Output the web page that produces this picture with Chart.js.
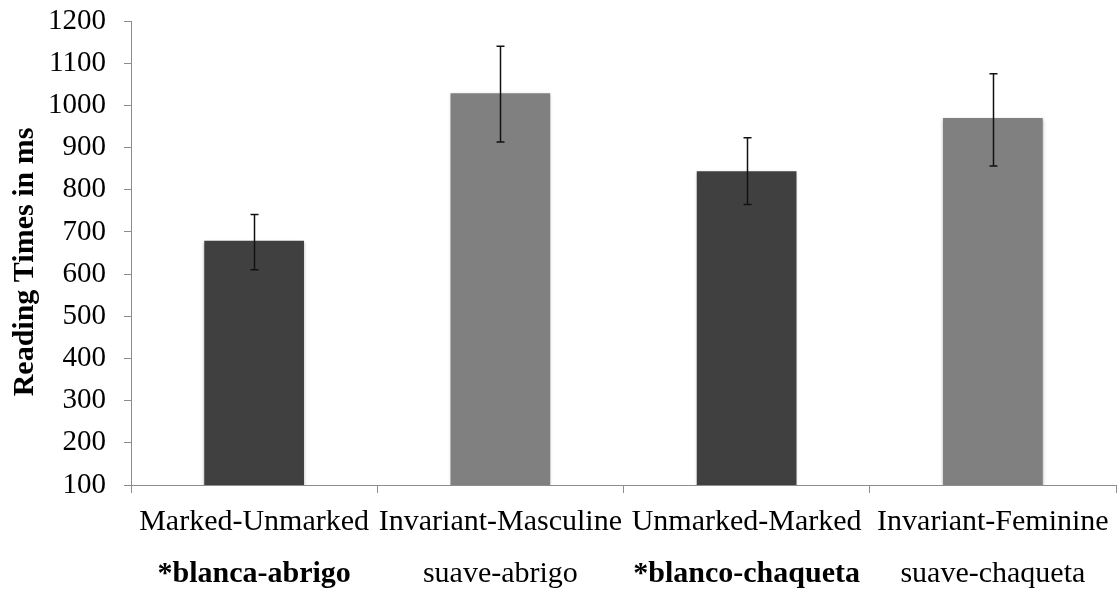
<!DOCTYPE html>
<html>
<head>
<meta charset="utf-8">
<title>Reading Times</title>
<script src="https://cdn.jsdelivr.net/npm/chart.js@4.4.0/dist/chart.umd.min.js"></script>
<style>
  html, body { margin: 0; padding: 0; background: #fff; }
  #wrap { width: 1117px; height: 590px; position: relative; }
</style>
</head>
<body>
<div id="wrap"><canvas id="chart-rt"></canvas></div>
<script>
// ====== DADOS ======
const categorias = ["Marked-Unmarked", "Invariant-Masculine", "Unmarked-Marked", "Invariant-Feminine"];
const exemplos = ["*blanca-abrigo", "suave-abrigo", "*blanco-chaqueta", "suave-chaqueta"];
const mediaRT = [679, 1029, 844, 970];
const erroMin = [610, 913, 765, 856];
const erroMax = [741, 1140, 923, 1075];
const ticksY = [100, 200, 300, 400, 500, 600, 700, 800, 900, 1000, 1100, 1200];

const fonte = "'Liberation Serif', 'Times New Roman', serif";
const corEixo = "#8c8c8c";

// ====== PLUGINS ======
// sombra leve nas barras
const sombraBarras = {
  id: "sombraBarras",
  beforeDatasetsDraw(chart) {
    const ctx = chart.ctx;
    ctx.save();
    ctx.shadowColor = "rgba(0,0,0,0.35)";
    ctx.shadowBlur = 3;
    ctx.shadowOffsetX = 0;
    ctx.shadowOffsetY = 1;
  },
  afterDatasetsDraw(chart) {
    chart.ctx.restore();
  }
};

// barras de erro
const barrasErro = {
  id: "barrasErro",
  afterDatasetsDraw(chart) {
    const ctx = chart.ctx;
    const x = chart.scales.x, y = chart.scales.y;
    ctx.save();
    ctx.strokeStyle = "#111";
    ctx.lineWidth = 1.5;
    erroMin.forEach((lo, i) => {
      const px = Math.round(x.getPixelForValue(i)) + 0.5;
      const y1 = y.getPixelForValue(erroMax[i]);
      const y2 = y.getPixelForValue(lo);
      ctx.beginPath();
      ctx.moveTo(px, y1); ctx.lineTo(px, y2);
      ctx.moveTo(px - 4, y1); ctx.lineTo(px + 4, y1);
      ctx.moveTo(px - 4, y2); ctx.lineTo(px + 4, y2);
      ctx.stroke();
    });
    ctx.restore();
  }
};

// rotulos do eixo x (duas linhas) e titulo do eixo y
const textos = {
  id: "textos",
  afterDraw(chart) {
    const ctx = chart.ctx;
    const x = chart.scales.x;
    ctx.save();
    ctx.fillStyle = "#000";
    ctx.textAlign = "center";
    ctx.textBaseline = "alphabetic";
    categorias.forEach((c, i) => {
      const px = x.getPixelForValue(i);
      ctx.font = "30px " + fonte;
      ctx.fillText(c, px, 530);
      const negrito = exemplos[i].startsWith("*");
      ctx.font = (negrito ? "bold " : "") + "30px " + fonte;
      ctx.fillText(exemplos[i], px, 582);
    });
    // titulo y
    ctx.translate(33, 262);
    ctx.rotate(-Math.PI / 2);
    ctx.font = "bold 30px " + fonte;
    ctx.fillText("Reading Times in ms", 0, 0);
    ctx.restore();
  }
};

// ====== GRAFICO ======
const ctx = document.getElementById("chart-rt").getContext("2d");
new Chart(ctx, {
  type: "bar",
  data: {
    labels: categorias,
    datasets: [{
      data: mediaRT,
      backgroundColor: ["#404040", "#808080", "#404040", "#808080"],
      borderWidth: 0,
      barPercentage: 0.405,
      categoryPercentage: 1
    }]
  },
  options: {
    responsive: true,
    maintainAspectRatio: false,
    animation: false,
    devicePixelRatio: 1,
    layout: { padding: { left: 48, top: 21, right: 1, bottom: 97 } },
    plugins: {
      legend: { display: false },
      tooltip: { enabled: false }
    },
    scales: {
      x: {
        grid: { drawOnChartArea: false, drawTicks: true, tickLength: 8, color: corEixo, offset: true },
        border: { color: corEixo, width: 1 },
        ticks: { display: false }
      },
      y: {
        min: 100,
        max: 1200,
        afterBuildTicks: (axis) => { axis.ticks = ticksY.map(v => ({ value: v })); },
        afterFit: (axis) => { axis.width = 83; axis.paddingTop = 0; axis.paddingBottom = 0; },
        grid: { drawOnChartArea: false, drawTicks: true, tickLength: 7, color: corEixo },
        border: { color: corEixo, width: 1 },
        ticks: {
          color: "#000",
          padding: 18,
          font: { family: fonte, size: 29, lineHeight: 0.2 },
          callback: (v) => String(v)
        }
      }
    }
  },
  plugins: [sombraBarras, barrasErro, textos]
});
</script>
</body>
</html>
